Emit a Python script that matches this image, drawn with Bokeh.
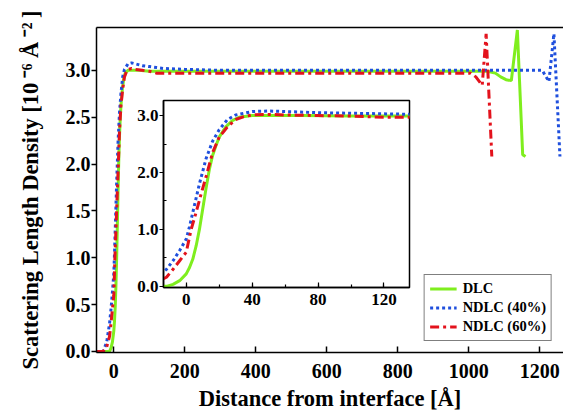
from bokeh.plotting import figure
from bokeh.models import (LinearAxis, FixedTicker, SingleIntervalTicker, Legend, LegendItem,
                          Range1d, NumeralTickFormatter)
from bokeh.embed import file_html
from bokeh.resources import INLINE

FONT = "Liberation Serif"
GREEN = "#7FEE1E"
BLUE = "#1F4FDD"
RED = "#E3121C"

# ---- data ----
dlc_x = [-50, -20, -12, -8, -4, 0, 2, 4, 6, 8, 10, 12, 14, 16, 18, 20, 24, 28, 32, 40, 50, 70,
         100, 150, 300, 500, 700, 900, 1052, 1075, 1090, 1105, 1120, 1137, 1152, 1160]
dlc_y = [0.0, 0.0, 0.0, 0.035, 0.10, 0.22, 0.33, 0.48, 0.71, 1.0, 1.36, 1.72, 2.05, 2.30, 2.47,
         2.62, 2.80, 2.91, 2.97, 3.0, 3.0, 3.0, 2.99, 2.99, 2.99, 2.99, 2.99, 2.99, 2.99, 2.97,
         2.93, 2.90, 2.89, 3.43, 2.10, 2.08]

n40_x = [-50, -30, -20, -12, -8, -4, 0, 2, 4, 8, 12, 16, 20, 25, 30, 40, 50, 60, 80, 100, 120,
         140, 200, 300, 500, 800, 1000, 1207, 1226, 1240, 1257]
n40_y = [0.0, 0.0, 0.10, 0.30, 0.45, 0.63, 0.83, 1.05, 1.30, 1.80, 2.24, 2.55, 2.75, 2.93, 3.01,
         3.07, 3.08, 3.07, 3.05, 3.04, 3.03, 3.02, 3.01, 3.0, 3.0, 3.0, 3.0, 3.0, 2.88, 3.39, 2.08]

n60_x = [-50, -30, -20, -12, -8, -4, 0, 3, 6, 9, 12, 16, 20, 25, 30, 35, 40, 50, 60, 80, 100,
         120, 140, 200, 400, 600, 800, 1005, 1020, 1038, 1049, 1065]
n60_y = [0.0, 0.0, 0.05, 0.16, 0.30, 0.45, 0.60, 1.00, 1.30, 1.62, 1.92, 2.35, 2.62, 2.80, 2.93,
         2.98, 3.01, 3.02, 3.01, 3.0, 2.99, 2.97, 2.97, 2.97, 2.97, 2.97, 2.97, 2.97, 2.93, 2.84,
         3.39, 2.08]

labels = ["DLC", "NDLC (40%)", "NDLC (60%)"]

main_x_ticks = [0, 200, 400, 600, 800, 1000, 1200]
main_y_ticks = [0.0, 0.5, 1.0, 1.5, 2.0, 2.5, 3.0]
inset_y_ticks = [0.0, 1.0, 2.0, 3.0]
inset_y_minor = [0.5, 1.5, 2.5]

W, H = 563, 413

# ---- main figure ----
p = figure(width=W, height=H, x_range=Range1d(-48.8, 1267), y_range=Range1d(-0.011, 3.457),
           output_backend="svg", toolbar_location=None,
           min_border_left=96, min_border_right=0, min_border_top=27, min_border_bottom=60,
           outline_line_color=None, background_fill_color="white", border_fill_color="white")
p.grid.visible = False

xa = p.xaxis[0]
xa.ticker = FixedTicker(ticks=main_x_ticks)
xa.axis_label = "Distance from interface [Å]"
ya = p.yaxis[0]
ya.ticker = FixedTicker(ticks=main_y_ticks)
ya.formatter = NumeralTickFormatter(format="0.0")
ya.axis_label = "Scattering Length Density [10\u2009⁻⁶ Å\u2009⁻²\u2009]"

for ax in (xa, ya):
    ax.axis_line_width = 1.5
    ax.axis_line_color = "black"
    ax.major_tick_line_color = "black"
    ax.major_tick_line_width = 1.5
    ax.minor_tick_line_color = None
    ax.major_label_text_font = FONT
    ax.major_label_text_font_style = "bold"
    ax.major_label_text_font_size = "20px"
    ax.major_label_text_color = "black"
    ax.axis_label_text_font = FONT
    ax.axis_label_text_font_style = "bold"
    ax.axis_label_text_font_size = "22.5px"
    ax.axis_label_text_color = "black"

xa.major_tick_in = 6
xa.major_tick_out = 0
xa.major_label_standoff = 11
xa.axis_label_standoff = 5
ya.major_tick_in = 0
ya.major_tick_out = 5
ya.major_label_standoff = 1
ya.axis_label_standoff = 20

top = LinearAxis(ticker=FixedTicker(ticks=[]), major_label_text_font_size="0px",
                 axis_line_width=1.5, axis_line_color="black",
                 major_tick_line_color=None, minor_tick_line_color=None)
p.add_layout(top, "above")

r1 = p.line(dlc_x, dlc_y, line_color=GREEN, line_width=3)
r2 = p.line(n40_x, n40_y, line_color=BLUE, line_width=3, line_dash="3 3")
r3 = p.line(n60_x, n60_y, line_color=RED, line_width=3, line_dash="9 4 3 4")

legend = Legend(items=[LegendItem(label=labels[0], renderers=[r1]),
                       LegendItem(label=labels[1], renderers=[r2]),
                       LegendItem(label=labels[2], renderers=[r3])],
                location="bottom_right")
legend.border_line_color = "black"
legend.border_line_width = 1.5
legend.background_fill_color = "white"
legend.background_fill_alpha = 1.0
legend.label_text_font = FONT
legend.label_text_font_style = "bold"
legend.label_text_font_size = "14.5px"
legend.label_text_color = "black"
legend.glyph_width = 27
legend.glyph_height = 17
legend.label_height = 17
legend.spacing = 2
legend.padding = 5
legend.margin = 11
legend.label_standoff = 6
p.add_layout(legend)

# ---- inset: a transparent full-size overlay whose frame sits at the inset box ----
ins = figure(width=W, height=H, x_range=Range1d(-13.8, 135.5), y_range=Range1d(-0.02, 3.264),
             output_backend="svg", toolbar_location=None,
             min_border_left=163, min_border_right=154, min_border_top=100, min_border_bottom=126,
             outline_line_color="black", outline_line_width=1.5,
             background_fill_color="white", border_fill_color=None)
ins.grid.visible = False
ix = ins.xaxis[0]
ix.ticker = SingleIntervalTicker(interval=40, num_minor_ticks=2)
iy = ins.yaxis[0]
iy.ticker = FixedTicker(ticks=inset_y_ticks, minor_ticks=inset_y_minor)
iy.formatter = NumeralTickFormatter(format="0.0")
for ax in (ix, iy):
    ax.axis_line_width = 1.5
    ax.axis_line_color = "black"
    ax.major_tick_line_color = "black"
    ax.major_tick_line_width = 1.2
    ax.minor_tick_line_color = "black"
    ax.minor_tick_line_width = 1.2
    ax.major_label_text_font = FONT
    ax.major_label_text_font_style = "bold"
    ax.major_label_text_font_size = "17px"
    ax.major_label_text_color = "black"
ix.major_tick_in = 5
ix.major_tick_out = 0
ix.minor_tick_in = 3
ix.minor_tick_out = 0
ix.major_label_standoff = 6
iy.major_tick_in = 0
iy.major_tick_out = 4
iy.minor_tick_in = 3
iy.minor_tick_out = 0
iy.major_label_standoff = 1

ins.line(dlc_x, dlc_y, line_color=GREEN, line_width=3)
ins.line(n40_x, n40_y, line_color=BLUE, line_width=3, line_dash="3 3")
ins.line(n60_x, n60_y, line_color=RED, line_width=3, line_dash="9 4 3 4")

ins.styles = {"position": "absolute", "left": "0px", "top": "0px"}

open("out.html", "w").write(file_html([p, ins], INLINE))
